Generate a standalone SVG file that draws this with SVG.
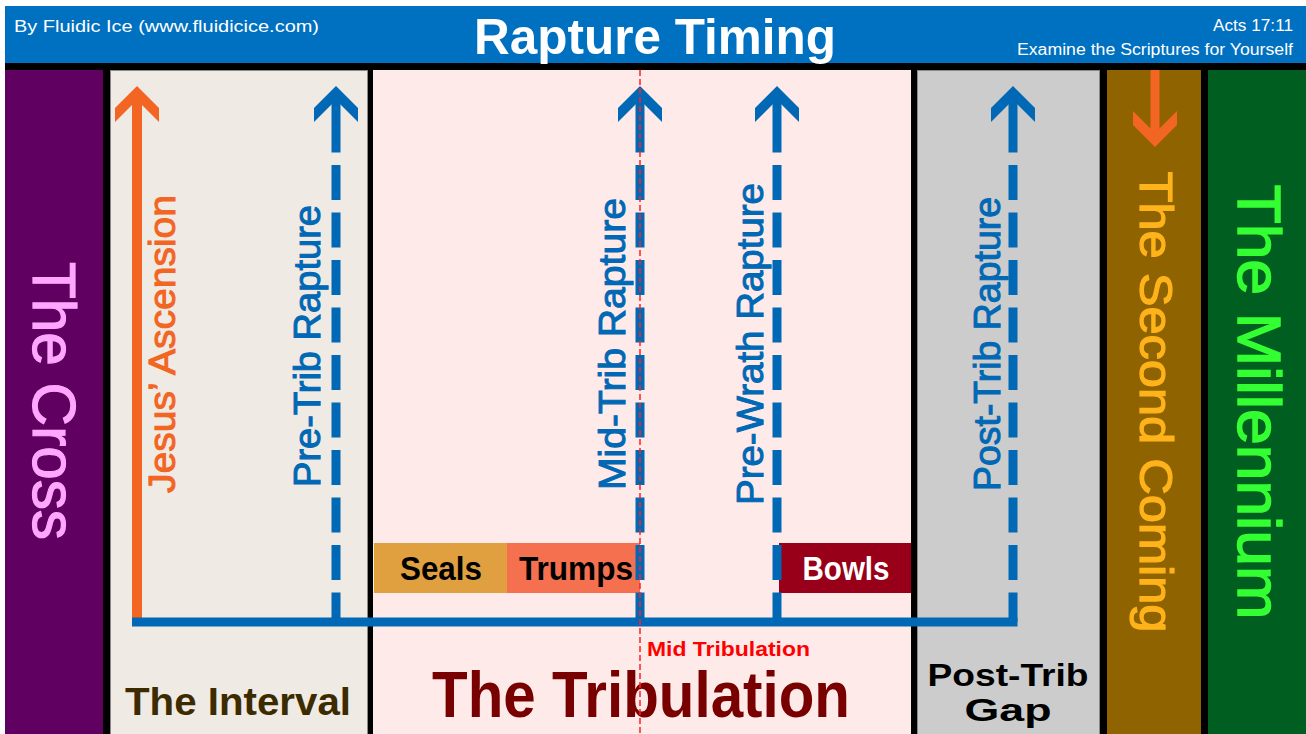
<svg xmlns="http://www.w3.org/2000/svg" xmlns:xlink="http://www.w3.org/1999/xlink" width="1306" height="734" viewBox="0 0 1306 734">
  <style>
    text { font-family: "Liberation Sans", Arial, sans-serif; }
    .b { font-weight: bold; }
    .blue-shaft { stroke: #0068B4; stroke-width: 9; fill: none; }
    .blue-dash { stroke: #0068B4; stroke-width: 9; fill: none; stroke-dasharray: 35 12.5; }
    .vlab { font-size: 37px; fill: #0068B4; stroke: #0068B4; stroke-width: 1; text-anchor: middle; }
    .thick { stroke-width: 1.2; }
  </style>
  <defs>
    <path id="chev-up" d="M0,0 L22,22 L22,36 L0,14 L-22,36 L-22,22 Z"/>
    <path id="chev-down" d="M0,0 L-22,-22 L-22,-36 L0,-14 L22,-36 L22,-22 Z"/>
  </defs>

  <rect x="0" y="0" width="1306" height="734" fill="#ffffff"/>
  <rect x="5" y="63" width="1301" height="671" fill="#000000"/>

  <g id="header">
    <rect x="5" y="6" width="1301" height="57" fill="#0070C0"/>
    <text x="14" y="32" font-size="17" fill="#ffffff" textLength="305" lengthAdjust="spacingAndGlyphs">By Fluidic Ice (www.fluidicice.com)</text>
    <text x="655" y="54" font-size="50" class="b" fill="#ffffff" text-anchor="middle" textLength="362" lengthAdjust="spacingAndGlyphs">Rapture Timing</text>
    <text x="1293" y="31" font-size="16" fill="#ffffff" text-anchor="end" textLength="80" lengthAdjust="spacingAndGlyphs">Acts 17:11</text>
    <text x="1293" y="55" font-size="16" fill="#ffffff" text-anchor="end" textLength="276" lengthAdjust="spacingAndGlyphs">Examine the Scriptures for Yourself</text>
  </g>

  <g id="cross">
    <rect x="5" y="70" width="98" height="664" fill="#600060"/>
    <text class="thick" transform="translate(33,401) rotate(90)" font-size="62" fill="#FFA6FF" stroke="#FFA6FF" stroke-width="1.5" text-anchor="middle" textLength="278" lengthAdjust="spacingAndGlyphs">The Cross</text>
  </g>

  <g id="interval">
    <rect x="110.5" y="70.5" width="257" height="664" fill="#F0EAE4" stroke="#8a8a8a" stroke-width="1"/>
    <text x="238" y="715" font-size="39" class="b" fill="#3D2B00" text-anchor="middle" textLength="226" lengthAdjust="spacingAndGlyphs">The Interval</text>
  </g>

  <g id="tribulation">
    <rect x="373" y="70" width="538" height="664" fill="#FFEAEA"/>
    <text x="641" y="717" font-size="64" class="b" fill="#780000" text-anchor="middle" textLength="418" lengthAdjust="spacingAndGlyphs">The Tribulation</text>
    <text x="647" y="656" font-size="20" class="b" fill="#FF0000" textLength="163" lengthAdjust="spacingAndGlyphs">Mid Tribulation</text>
  </g>

  <g id="seals">
    <rect x="374" y="543" width="133" height="50" fill="#E0A040"/>
    <text x="441" y="580" font-size="33" class="b" fill="#000000" text-anchor="middle" textLength="82" lengthAdjust="spacingAndGlyphs">Seals</text>
  </g>
  <g id="trumps">
    <rect x="507" y="543" width="133" height="50" fill="#F4704F"/>
    <text x="576" y="580" font-size="33" class="b" fill="#000000" text-anchor="middle" textLength="114" lengthAdjust="spacingAndGlyphs">Trumps</text>
  </g>
  <g id="bowls">
    <rect x="779" y="543" width="132" height="50" fill="#98001A"/>
    <text x="846" y="580" font-size="33" class="b" fill="#ffffff" text-anchor="middle" textLength="87" lengthAdjust="spacingAndGlyphs">Bowls</text>
  </g>

  <g id="post-trib-gap">
    <rect x="917.5" y="70.5" width="182" height="664" fill="#CCCCCC" stroke="#8a8a8a" stroke-width="1"/>
    <text x="1008" y="686" font-size="32" class="b" fill="#000000" text-anchor="middle" textLength="161" lengthAdjust="spacingAndGlyphs">Post-Trib</text>
    <text x="1008" y="721" font-size="32" class="b" fill="#000000" text-anchor="middle" textLength="87" lengthAdjust="spacingAndGlyphs">Gap</text>
  </g>

  <g id="second-coming">
    <rect x="1107" y="70" width="94" height="664" fill="#8F6300"/>
    <text transform="translate(1140,402) rotate(90)" font-size="46" fill="#FFB31A" stroke="#FFB31A" stroke-width="1.2" text-anchor="middle" textLength="461" lengthAdjust="spacingAndGlyphs">The Second Coming</text>
  </g>

  <g id="millennium">
    <rect x="1208" y="70" width="98" height="664" fill="#005E20"/>
    <text transform="translate(1238,402) rotate(90)" font-size="62" fill="#33FF33" stroke="#33FF33" stroke-width="1.5" text-anchor="middle" textLength="435" lengthAdjust="spacingAndGlyphs">The Millennium</text>
  </g>

  <g id="labels">
    <text transform="translate(175,344) rotate(-90)" font-size="37" fill="#F26522" stroke="#F26522" stroke-width="1" text-anchor="middle" textLength="298" lengthAdjust="spacingAndGlyphs">Jesus’ Ascension</text>
    <text class="vlab" transform="translate(320,346) rotate(-90)" textLength="282" lengthAdjust="spacingAndGlyphs">Pre-Trib Rapture</text>
    <text class="vlab" transform="translate(625,344) rotate(-90)" textLength="292" lengthAdjust="spacingAndGlyphs">Mid-Trib Rapture</text>
    <text class="vlab" transform="translate(763,344) rotate(-90)" textLength="322" lengthAdjust="spacingAndGlyphs">Pre-Wrath Rapture</text>
    <text class="vlab" transform="translate(1000,344) rotate(-90)" textLength="294" lengthAdjust="spacingAndGlyphs">Post-Trib Rapture</text>
  </g>

  <g id="connectors">
    <!-- Jesus' Ascension -->
    <line x1="137" y1="95" x2="137" y2="620" stroke="#F26522" stroke-width="10"/>
    <use xlink:href="#chev-up" x="137" y="86" fill="#F26522"/>
    <!-- Second Coming -->
    <line x1="1155" y1="70" x2="1155" y2="140" stroke="#F26522" stroke-width="9"/>
    <use xlink:href="#chev-down" x="1155" y="147" fill="#F26522"/>
    <!-- Pre-Trib -->
    <line class="blue-shaft" x1="336" y1="95" x2="336" y2="152.5"/>
    <line class="blue-dash" x1="336" y1="165" x2="336" y2="622"/>
    <use xlink:href="#chev-up" x="336" y="86" fill="#0068B4"/>
    <!-- Mid-Trib -->
    <line class="blue-shaft" x1="640" y1="95" x2="640" y2="152.5"/>
    <line class="blue-dash" x1="640" y1="165" x2="640" y2="622"/>
    <use xlink:href="#chev-up" x="640" y="86" fill="#0068B4"/>
    <!-- Pre-Wrath -->
    <line class="blue-shaft" x1="777" y1="95" x2="777" y2="152.5"/>
    <line class="blue-dash" x1="777" y1="165" x2="777" y2="622"/>
    <use xlink:href="#chev-up" x="777" y="86" fill="#0068B4"/>
    <!-- Post-Trib -->
    <line class="blue-shaft" x1="1013" y1="95" x2="1013" y2="152.5"/>
    <line class="blue-dash" x1="1013" y1="165" x2="1013" y2="622"/>
    <use xlink:href="#chev-up" x="1013" y="86" fill="#0068B4"/>
    <!-- timeline -->
    <line x1="132" y1="622" x2="1017.5" y2="622" stroke="#0068B4" stroke-width="9"/>
    <!-- mid tribulation marker -->
    <line x1="640" y1="70" x2="640" y2="734" stroke="#FF2020" stroke-width="1.5" stroke-dasharray="6 3"/>
  </g>
</svg>
